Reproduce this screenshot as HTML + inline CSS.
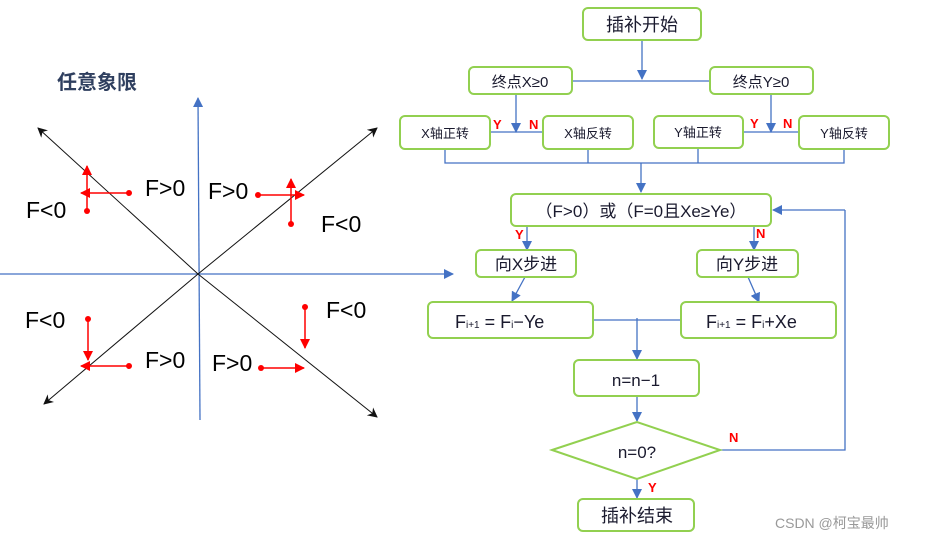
<!DOCTYPE html>
<html><head><meta charset="utf-8"><style>
html,body{margin:0;padding:0;background:#fff;}
svg{display:block;}
text{font-family:"Liberation Sans","Noto Sans CJK SC",sans-serif;}
</style></head><body>
<svg width="952" height="541" viewBox="0 0 952 541" xmlns="http://www.w3.org/2000/svg">
<defs>
<marker id="bk" markerWidth="10" markerHeight="10" refX="9" refY="5" orient="auto" markerUnits="userSpaceOnUse"><path d="M0,0 L10,5 L0,10 L3,5 z" fill="#111"/></marker>
<marker id="bl" markerWidth="10" markerHeight="10" refX="9" refY="5" orient="auto" markerUnits="userSpaceOnUse"><path d="M0,0 L10,5 L0,10 z" fill="#4472c4"/></marker>
<marker id="rd" markerWidth="10" markerHeight="10" refX="9" refY="5" orient="auto" markerUnits="userSpaceOnUse"><path d="M0,0 L10,5 L0,10 z" fill="#ff0000"/></marker>
</defs>
<!-- left diagram -->
<text x="57" y="89" font-size="20" font-weight="bold" fill="#2f3f5f">任意象限</text>
<line x1="200" y1="420" x2="198" y2="98" stroke="#4472c4" stroke-width="1.3" marker-end="url(#bl)"/>
<line x1="0" y1="274" x2="453" y2="274" stroke="#4472c4" stroke-width="1.3" marker-end="url(#bl)"/>
<line x1="198" y1="274" x2="38" y2="128" stroke="#111" stroke-width="1" marker-end="url(#bk)"/>
<line x1="198" y1="274" x2="377" y2="417" stroke="#111" stroke-width="1" marker-end="url(#bk)"/>
<line x1="198" y1="274" x2="377" y2="128" stroke="#111" stroke-width="1" marker-end="url(#bk)"/>
<line x1="198" y1="274" x2="44" y2="404" stroke="#111" stroke-width="1" marker-end="url(#bk)"/>
<g stroke="#ff0000" stroke-width="1.5" fill="#ff0000">
<line x1="129" y1="193" x2="81" y2="193" marker-end="url(#rd)"/><circle cx="129" cy="193" r="3" stroke="none"/>
<line x1="87" y1="211" x2="87" y2="166" marker-end="url(#rd)"/><circle cx="87" cy="211" r="3" stroke="none"/>
<line x1="258" y1="195" x2="304" y2="195" marker-end="url(#rd)"/><circle cx="258" cy="195" r="3" stroke="none"/>
<line x1="291" y1="224" x2="291" y2="179" marker-end="url(#rd)"/><circle cx="291" cy="224" r="3" stroke="none"/>
<line x1="88" y1="319" x2="88" y2="360" marker-end="url(#rd)"/><circle cx="88" cy="319" r="3" stroke="none"/>
<line x1="129" y1="366" x2="81" y2="366" marker-end="url(#rd)"/><circle cx="129" cy="366" r="3" stroke="none"/>
<line x1="305" y1="307" x2="305" y2="348" marker-end="url(#rd)"/><circle cx="305" cy="307" r="3" stroke="none"/>
<line x1="261" y1="368" x2="304" y2="368" marker-end="url(#rd)"/><circle cx="261" cy="368" r="3" stroke="none"/>
</g>
<g font-size="23" fill="#000">
<text x="145" y="196">F&gt;0</text><text x="26" y="218">F&lt;0</text>
<text x="208" y="199">F&gt;0</text><text x="321" y="232">F&lt;0</text>
<text x="25" y="328">F&lt;0</text><text x="145" y="368">F&gt;0</text>
<text x="326" y="318">F&lt;0</text><text x="212" y="371">F&gt;0</text>
</g>
<!-- flowchart connectors -->
<g stroke="#4472c4" stroke-width="1.3" fill="none">
<line x1="642" y1="40" x2="642" y2="79" marker-end="url(#bl)"/>
<line x1="572" y1="81" x2="710" y2="81"/>
<line x1="516" y1="94" x2="516" y2="132" marker-end="url(#bl)"/>
<line x1="490" y1="132" x2="543" y2="132"/>
<line x1="771" y1="94" x2="771" y2="132" marker-end="url(#bl)"/>
<line x1="743" y1="132" x2="799" y2="132"/>
<polyline points="445,149 445,163 844,163 844,149"/>
<line x1="588" y1="149" x2="588" y2="163"/><line x1="698" y1="148" x2="698" y2="163"/>
<line x1="641" y1="163" x2="641" y2="192" marker-end="url(#bl)"/>
<line x1="527" y1="226" x2="527" y2="250" marker-end="url(#bl)"/>
<line x1="754" y1="226" x2="754" y2="250" marker-end="url(#bl)"/>
<line x1="525" y1="277" x2="512" y2="301" marker-end="url(#bl)"/>
<line x1="748" y1="277" x2="759" y2="302" marker-end="url(#bl)"/>
<line x1="593" y1="320" x2="681" y2="320"/>
<line x1="637" y1="318" x2="637" y2="359" marker-end="url(#bl)"/>
<line x1="637" y1="396" x2="637" y2="421" marker-end="url(#bl)"/>
<polyline points="720,450 845,450 845,210"/>
<line x1="845" y1="210" x2="773" y2="210" marker-end="url(#bl)"/>
<line x1="637" y1="479" x2="637" y2="498" marker-end="url(#bl)"/>
</g>
<!-- boxes -->
<g fill="#fff" stroke="#92d050" stroke-width="2">
<rect x="583" y="8" width="118" height="32" rx="5"/>
<rect x="469" y="67" width="103" height="27" rx="5"/>
<rect x="710" y="67" width="103" height="27" rx="5"/>
<rect x="400" y="116" width="90" height="33" rx="5"/>
<rect x="543" y="116" width="90" height="33" rx="5"/>
<rect x="654" y="116" width="89" height="32" rx="5"/>
<rect x="799" y="116" width="90" height="33" rx="5"/>
<rect x="511" y="194" width="260" height="32" rx="5"/>
<rect x="476" y="250" width="100" height="27" rx="5"/>
<rect x="697" y="250" width="101" height="27" rx="5"/>
<rect x="428" y="302" width="165" height="36" rx="5"/>
<rect x="681" y="302" width="155" height="36" rx="5"/>
<rect x="574" y="360" width="125" height="36" rx="5"/>
<polygon points="552,450 637,422 720,450 637,479"/>
<rect x="578" y="499" width="116" height="32" rx="5"/>
</g>
<g fill="#1a1a2e" text-anchor="middle">
<text x="642" y="31" font-size="18">插补开始</text>
<text x="520" y="87" font-size="15">终点X≥0</text>
<text x="761" y="87" font-size="15">终点Y≥0</text>
<text x="445" y="138" font-size="13">X轴正转</text>
<text x="588" y="138" font-size="13">X轴反转</text>
<text x="698" y="137" font-size="13">Y轴正转</text>
<text x="844" y="138" font-size="13">Y轴反转</text>
<text x="641" y="217" font-size="17">（F&gt;0）或（F=0且Xe≥Ye）</text>
<text x="526" y="270" font-size="17">向X步进</text>
<text x="747" y="270" font-size="17">向Y步进</text>
<text x="636" y="386" font-size="17">n=n−1</text>
<text x="637" y="458" font-size="17">n=0?</text>
<text x="637" y="522" font-size="18">插补结束</text>
</g>
<g fill="#1a1a2e" font-size="18">
<text x="455" y="328">F<tspan font-size="10">i+1</tspan> =  F<tspan font-size="10">i</tspan>−Ye</text>
<text x="706" y="328">F<tspan font-size="10">i+1</tspan> =  F<tspan font-size="10">i</tspan>+Xe</text>
</g>
<g fill="#ff0000" font-size="13" font-weight="bold">
<text x="493" y="129">Y</text><text x="529" y="129">N</text>
<text x="750" y="128">Y</text><text x="783" y="128">N</text>
<text x="515" y="239">Y</text><text x="756" y="238">N</text>
<text x="729" y="442">N</text><text x="648" y="492">Y</text>
</g>
<text x="775" y="528" font-size="14" fill="#999">CSDN @柯宝最帅</text>
</svg>
</body></html>
